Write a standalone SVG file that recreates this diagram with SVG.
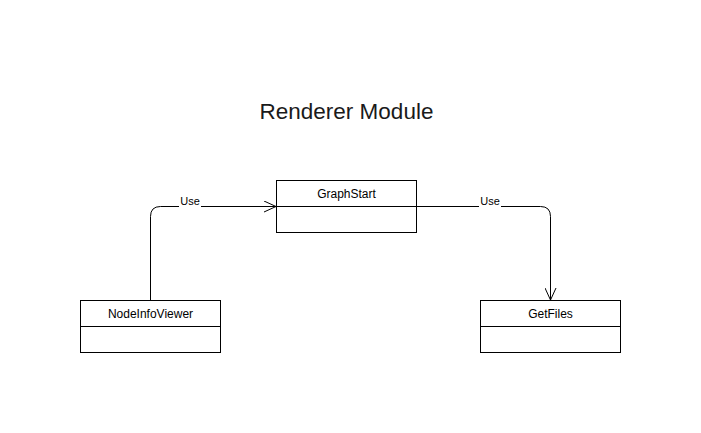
<svg xmlns="http://www.w3.org/2000/svg" width="701" height="433" viewBox="0 0 701 433">
<defs>
<style>
.box{fill:#fff;stroke:#000;stroke-width:1}
.name{font-family:"Liberation Sans",Arial,sans-serif;font-size:12px;fill:#000;text-anchor:middle}
.lbl{font-family:"Liberation Sans",Arial,sans-serif;font-size:11px;fill:#000;text-anchor:middle}
.edge{fill:none;stroke:#000;stroke-width:1}
</style>
<marker id="open" viewBox="0 0 14 12" refX="13" refY="6" markerWidth="14" markerHeight="12" markerUnits="userSpaceOnUse" orient="auto">
<path d="M1,0.5 L13,6 L1,11.5" fill="none" stroke="#000" stroke-width="1"/>
</marker>
</defs>
<rect width="701" height="433" fill="#fff"/>
<text x="346.5" y="119" font-family="'Liberation Sans',Arial,sans-serif" font-size="22.5" text-anchor="middle" fill="#1a1a1a">Renderer Module</text>
<g id="connectors">
<path class="edge" d="M150.5,300.5 L150.5,216.5 Q150.5,206.5 160.5,206.5 L276,206.5" marker-end="url(#open)"/>
<rect x="179" y="196" width="22" height="11" fill="#fff"/>
<text class="lbl" x="190" y="205">Use</text>
<path class="edge" d="M416.5,206.5 L540.5,206.5 Q550.5,206.5 550.5,216.5 L550.5,300" marker-end="url(#open)"/>
<rect x="479" y="196" width="22" height="11" fill="#fff"/>
<text class="lbl" x="490" y="205">Use</text>
</g>
<g id="GraphStart">
<rect class="box" x="276.5" y="180.5" width="140" height="52"/>
<line class="edge" x1="276.5" y1="206.5" x2="416.5" y2="206.5"/>
<text class="name" x="346.5" y="198">GraphStart</text>
</g>
<g id="NodeInfoViewer">
<rect class="box" x="80.5" y="300.5" width="140" height="52"/>
<line class="edge" x1="80.5" y1="326.5" x2="220.5" y2="326.5"/>
<text class="name" x="150.5" y="318">NodeInfoViewer</text>
</g>
<g id="GetFiles">
<rect class="box" x="480.5" y="300.5" width="140" height="52"/>
<line class="edge" x1="480.5" y1="326.5" x2="620.5" y2="326.5"/>
<text class="name" x="550.5" y="318">GetFiles</text>
</g>
</svg>
